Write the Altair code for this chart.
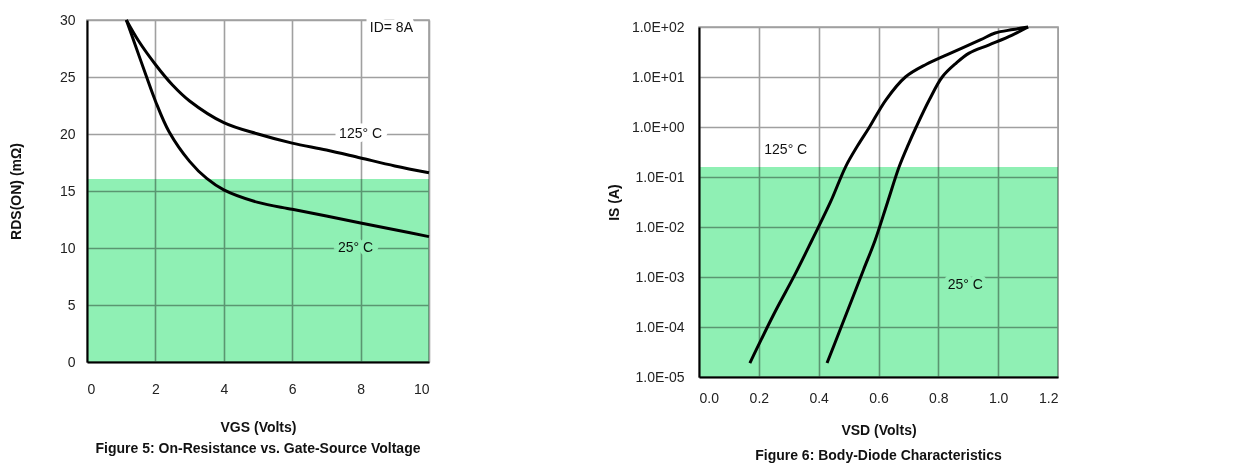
import altair as alt
import pandas as pd

# ---- Figure 5: On-resistance vs gate-source voltage (I_D = 8A)
vgs_125 = [1.15, 1.5, 2.0, 2.5, 3.0, 4.0, 5.0, 6.0, 7.0, 8.0, 9.0, 10.0]
rds_125 = [30.0, 28.2, 26.1, 24.3, 22.9, 21.0, 20.0, 19.2, 18.6, 17.9, 17.2, 16.6]
vgs_25 = [1.15, 1.4, 1.73, 2.0, 2.4, 3.0, 3.5, 4.0, 5.0, 6.0, 7.0, 8.0, 9.0, 10.0]
rds_25 = [30.0, 27.9, 25.1, 22.9, 20.2, 17.6, 16.1, 15.1, 14.0, 13.4, 12.8, 12.2, 11.6, 11.0]

# ---- Figure 6: Body-diode characteristics
vsd_125 = [0.17, 0.25, 0.32, 0.378, 0.44, 0.49, 0.53, 0.57, 0.625, 0.69, 0.76, 0.83, 0.94, 0.99, 1.05, 1.10]
is_125 = [1.9e-5, 1.8e-4, 1.1e-3, 5.5e-3, 3.2e-2, 0.16, 0.42, 1.0, 3.5, 10, 18, 28, 55, 76, 89, 100]
vsd_25 = [0.428, 0.47, 0.51, 0.55, 0.589, 0.63, 0.669, 0.70, 0.726, 0.77, 0.813, 0.86, 0.903, 0.97, 1.047, 1.10]
is_25 = [1.9e-5, 8.3e-5, 3.4e-4, 1.4e-3, 5.5e-3, 3.1e-2, 0.16, 0.45, 1.0, 3.5, 10, 19, 30, 44, 69, 100]

left_xticks = [0, 2, 4, 6, 8, 10]
left_yticks = [0, 5, 10, 15, 20, 25, 30]
right_xticks = [0.0, 0.2, 0.4, 0.6, 0.8, 1.0, 1.2]
right_yticks = [1e-5, 1e-4, 1e-3, 1e-2, 1e-1, 1e0, 1e1, 1e2]

left_label_text = ["ID= 8A", "125° C", "25° C"]
left_label_x = [8.9, 8.0, 7.85]
left_label_y = [29.3, 20.0, 10.0]
right_label_text = ["125° C", "25° C"]
right_label_x = [0.29, 0.89]
right_label_y = [0.35, 7e-4]

FONT = "Liberation Sans"
GRID = "#a0a0a0"
BAND = "#8ff0b4"

df_l = pd.DataFrame({
    "x": vgs_125 + vgs_25,
    "y": rds_125 + rds_25,
    "t": ["125"] * len(vgs_125) + ["25"] * len(vgs_25),
})
df_r = pd.DataFrame({
    "x": vsd_125 + vsd_25,
    "y": is_125 + is_25,
    "t": ["125"] * len(vsd_125) + ["25"] * len(vsd_25),
})
lab_l = pd.DataFrame({"x": left_label_x, "y": left_label_y, "text": left_label_text})
lab_r = pd.DataFrame({"x": right_label_x, "y": right_label_y, "text": right_label_text})
band_l = pd.DataFrame({"x": [0], "x2": [10], "y": [0], "y2": [16.05]})
band_r = pd.DataFrame({"x": [0.0], "x2": [1.2], "y": [1e-5], "y2": [0.158]})

axis_common = dict(
    grid=True, gridColor=GRID, gridWidth=1.6, ticks=False,
    domainColor="black", domainWidth=2,
    labelFont=FONT, labelFontSize=14, labelColor="#222222",
    titleFont=FONT, titleFontSize=14, titleFontWeight="bold", titleColor="#111111",
)

xl = alt.X("x:Q", scale=alt.Scale(domain=[0, 10], nice=False),
           axis=alt.Axis(values=left_xticks, title="VGS (Volts)", labelPadding=20,
                         titlePadding=24, **axis_common))
yl = alt.Y("y:Q", scale=alt.Scale(domain=[0, 30], nice=False),
           axis=alt.Axis(values=left_yticks, title="RDS(ON) (mΩ)", labelPadding=12,
                         titlePadding=36, **axis_common))

lines_l = alt.Chart(df_l).mark_line(color="black", strokeWidth=3, interpolate="catmull-rom").encode(
    x=xl, y=yl, detail="t:N")
halo_l = alt.Chart(lab_l).mark_text(font=FONT, fontSize=14, color="white", stroke="white",
                                    strokeWidth=9).encode(x="x:Q", y="y:Q", text="text:N")
text_l = alt.Chart(lab_l).mark_text(font=FONT, fontSize=14, color="#111111").encode(
    x="x:Q", y="y:Q", text="text:N")
bandmark_l = alt.Chart(band_l).mark_rect(color=BAND, blend="multiply").encode(
    x="x:Q", x2="x2", y="y:Q", y2="y2")

left = alt.layer(lines_l, halo_l, text_l, bandmark_l).properties(
    width=342, height=342,
    title=alt.TitleParams("Figure 5: On-Resistance vs. Gate-Source Voltage", orient="bottom",
                          font=FONT, fontSize=14, fontWeight="bold", color="#111111", offset=8),
)

xr = alt.X("x:Q", scale=alt.Scale(domain=[0, 1.2], nice=False),
           axis=alt.Axis(values=right_xticks, format=".1f", title="VSD (Volts)", labelPadding=14,
                         titlePadding=18, **axis_common))
yr = alt.Y("y:Q", scale=alt.Scale(type="log", domain=[1e-5, 100], nice=False),
           axis=alt.Axis(values=right_yticks, title="IS (A)", labelPadding=15, titlePadding=10,
                         labelExpr="'1.0E' + (datum.value >= 1 ? '+' : '-') + '0' + abs(round(log(datum.value) / LN10))",
                         **axis_common))

lines_r = alt.Chart(df_r).mark_line(color="black", strokeWidth=3, interpolate="catmull-rom").encode(
    x=xr, y=yr, detail="t:N")
halo_r = alt.Chart(lab_r).mark_text(font=FONT, fontSize=14, color="white", stroke="white",
                                    strokeWidth=9).encode(x="x:Q", y="y:Q", text="text:N")
text_r = alt.Chart(lab_r).mark_text(font=FONT, fontSize=14, color="#111111").encode(
    x="x:Q", y="y:Q", text="text:N")
bandmark_r = alt.Chart(band_r).mark_rect(color=BAND, blend="multiply").encode(
    x="x:Q", x2="x2", y="y:Q", y2="y2")

right = alt.layer(lines_r, halo_r, text_r, bandmark_r).properties(
    width=359, height=350,
    title=alt.TitleParams("Figure 6: Body-Diode Characteristics", orient="bottom",
                          font=FONT, fontSize=14, fontWeight="bold", color="#111111", offset=12),
)

spacer = alt.Chart(pd.DataFrame({"x": [0]})).mark_point(opacity=0).encode(
    x=alt.X("x:Q", axis=None), y=alt.Y("x:Q", axis=None)
).properties(width=359, height=1, view=alt.ViewBackground(strokeOpacity=0))

right_col = alt.vconcat(spacer, right, spacing=-5)

chart = alt.hconcat(left, right_col, spacing=170).properties(
    padding={"left": 0, "top": 4, "right": 0, "bottom": 0},
    background="white",
).configure_view(stroke=GRID, strokeWidth=1.6)

chart.save("out.html", embed_options={"renderer": "svg", "actions": False})
